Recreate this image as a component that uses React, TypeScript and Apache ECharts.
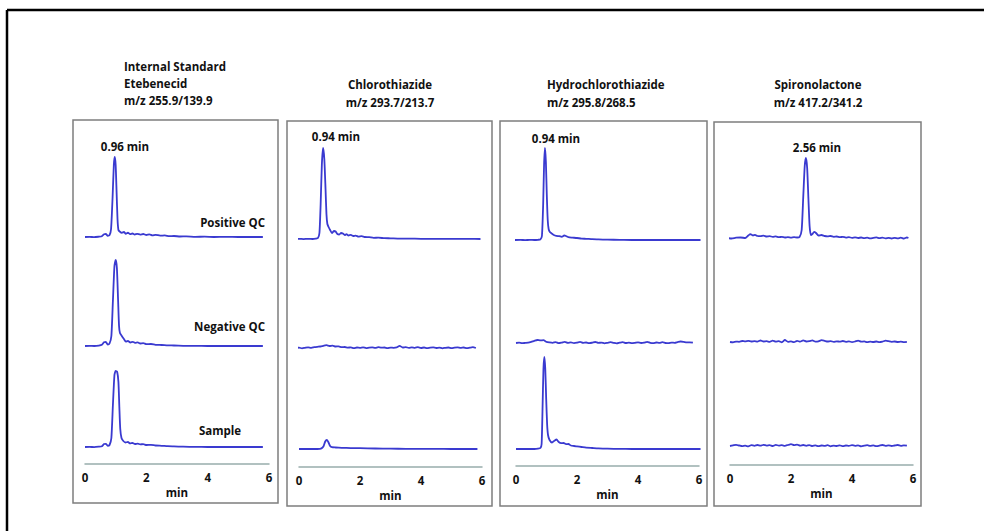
import React, { useEffect, useRef } from "react";
import * as echarts from "echarts";

// ---------- text ----------
const panelTitles: string[][] = [
  ["Internal Standard", "Etebenecid", "m/z 255.9/139.9"],
  ["Chlorothiazide", "m/z 293.7/213.7"],
  ["Hydrochlorothiazide", "m/z 295.8/268.5"],
  ["Spironolactone", "m/z 417.2/341.2"],
];
const peakLabels = ["0.96 min", "0.94 min", "0.94 min", "2.56 min"];
const rowLabels = ["Positive QC", "Negative QC", "Sample"];
const xTickRange = { min: 0, max: 6, interval: 2 };
const xAxisName = "min";

// ---------- data: [time (min), signal] ----------
const p1Pos = [[0,0],[0.15,0.2],[0.3,-0.2],[0.45,0.3],[0.55,0.8],[0.62,2.8],[0.68,3],[0.74,1.2],[0.8,1.8],[0.85,8],[0.9,40],[0.94,72],[0.97,80],[1.0,72],[1.03,45],[1.06,18],[1.09,7],[1.13,5.5],[1.2,4.2],[1.27,5],[1.33,3.2],[1.4,4.3],[1.47,2.8],[1.55,3.5],[1.62,2.4],[1.7,3.2],[1.8,2.4],[1.9,3],[2.0,2],[2.1,2.6],[2.2,1.6],[2.3,2.2],[2.45,1.3],[2.6,1.6],[2.75,0.8],[2.9,1],[3.1,0.5],[3.3,0.6],[3.6,0.2],[3.9,0.3],[4.2,0],[4.6,0.1],[5.0,0],[5.4,0],[5.8,0]];
const p1Neg = [[0,0],[0.15,0.2],[0.3,0],[0.45,0.4],[0.55,1.2],[0.62,3.8],[0.68,4],[0.74,1.5],[0.8,2.5],[0.86,10],[0.91,45],[0.96,80],[1.0,86],[1.04,78],[1.08,45],[1.11,20],[1.14,13],[1.2,10],[1.27,7],[1.33,4.5],[1.4,5],[1.48,3.5],[1.56,4.2],[1.63,3.2],[1.72,3.6],[1.8,2.5],[1.9,2.8],[2.0,1.8],[2.15,2],[2.3,1.2],[2.5,1],[2.7,0.6],[2.9,0.5],[3.2,0.2],[3.6,0.1],[4.0,0],[4.5,0],[5.0,0],[5.4,0],[5.8,0]];
const p1Sample = [[0,0],[0.15,0.1],[0.3,-0.1],[0.45,0.3],[0.55,0.8],[0.62,3],[0.68,3.2],[0.74,1.2],[0.8,2],[0.86,9],[0.91,42],[0.96,72],[1.0,76],[1.05,75],[1.09,65],[1.12,40],[1.15,18],[1.19,9],[1.25,6],[1.32,4.5],[1.4,5],[1.47,3.6],[1.55,4],[1.63,3],[1.72,3.4],[1.8,2.6],[1.9,2.9],[2.0,2],[2.15,2.2],[2.3,1.5],[2.5,1.2],[2.7,0.8],[2.9,0.6],[3.2,0.3],[3.6,0.1],[4.0,0],[4.5,0],[5.0,0],[5.4,0],[5.8,0]];

const p2Pos = [[-0.15,0],[0,0.2],[0.15,-0.1],[0.3,0.2],[0.45,0],[0.55,0.4],[0.62,1],[0.67,6],[0.71,35],[0.75,75],[0.79,91],[0.83,80],[0.87,50],[0.9,25],[0.93,15],[0.97,12],[1.02,9],[1.08,6],[1.15,8],[1.2,7.5],[1.26,5],[1.32,4.5],[1.38,6],[1.44,5.5],[1.5,4],[1.56,4.8],[1.62,3.5],[1.7,4.2],[1.78,3],[1.86,3.4],[1.95,2.4],[2.05,2.8],[2.15,2],[2.3,1.8],[2.45,1.2],[2.6,1.3],[2.8,0.8],[3.0,0.7],[3.3,0.4],[3.6,0.4],[4.0,0.2],[4.4,0.2],[4.8,0.1],[5.2,0.2],[5.6,0.1],[5.95,0]];
const p2Neg = [[-0.1,0],[0,0.3],[0.1,-0.3],[0.2,0.2],[0.3,0.6],[0.4,0.2],[0.5,0.8],[0.6,1.2],[0.7,1.5],[0.8,2.2],[0.9,2.8],[1.0,2.0],[1.1,2.4],[1.2,1.5],[1.3,1.6],[1.4,0.8],[1.5,1.0],[1.6,0.4],[1.7,0.6],[1.8,-0.2],[1.9,0.5],[2.0,0.2],[2.1,0.7],[2.2,-0.1],[2.3,0.4],[2.4,0.6],[2.5,0.1],[2.6,0.8],[2.7,0.3],[2.8,0.5],[2.9,-0.2],[3.0,0.4],[3.1,0.2],[3.2,0.6],[3.3,2.2],[3.4,0.5],[3.5,0.9],[3.6,0.1],[3.7,0.6],[3.8,0.2],[3.9,0.8],[4.0,0.0],[4.1,0.5],[4.2,-0.2],[4.3,0.3],[4.4,0.6],[4.5,0.0],[4.6,0.4],[4.7,-0.3],[4.8,0.2],[4.9,0.5],[5.0,-0.1],[5.1,0.4],[5.2,0.7],[5.3,0.1],[5.4,0.5],[5.5,-0.2],[5.6,0.3],[5.7,0.8],[5.8,0.0]];
const p2Sample = [[0,0],[0.3,0],[0.6,0],[0.72,0.3],[0.8,2.5],[0.86,7.5],[0.91,9],[0.96,7],[1.02,3],[1.08,1.8],[1.2,1.5],[1.4,1.2],[1.7,0.9],[2.0,0.8],[2.5,0.5],[3.0,0.3],[3.5,0.2],[4.0,0.1],[4.5,0.1],[5.0,0],[5.5,0],[5.85,0]];

const p3Pos = [[-0.05,0],[0.15,0.1],[0.3,-0.1],[0.45,0.1],[0.6,0],[0.72,0.2],[0.8,0.6],[0.85,4],[0.89,35],[0.92,75],[0.95,92],[0.98,78],[1.01,45],[1.04,20],[1.07,11],[1.11,8],[1.17,6.5],[1.24,5],[1.32,4.2],[1.42,3.8],[1.5,3.2],[1.58,4.5],[1.64,4],[1.72,2.8],[1.85,2.4],[2.0,2],[2.15,1.4],[2.3,1.2],[2.5,0.8],[2.7,0.6],[3.0,0.3],[3.4,0.2],[3.8,0],[4.3,0],[4.8,0],[5.3,0],[5.8,0],[6.05,0]];
const p3Neg = [[0,0],[0.1,0.3],[0.2,-0.2],[0.3,0.1],[0.4,0.4],[0.5,1.2],[0.6,2.2],[0.7,3],[0.8,2.6],[0.9,2.8],[1.0,1.2],[1.1,0.6],[1.2,0.2],[1.3,0.8],[1.4,-0.2],[1.5,0.4],[1.6,1.2],[1.7,0.1],[1.8,0.6],[1.9,-0.1],[2.0,0.3],[2.1,1.1],[2.2,0.2],[2.3,0.5],[2.4,-0.2],[2.5,0.3],[2.6,1],[2.7,0.1],[2.8,0.4],[2.9,-0.3],[3.0,0.2],[3.1,0.8],[3.2,0.1],[3.3,-0.4],[3.4,0.3],[3.5,0.9],[3.6,0],[3.7,0.4],[3.8,-0.2],[3.9,0.2],[4.0,0.7],[4.1,0],[4.2,0.3],[4.3,1.2],[4.4,0.2],[4.5,-0.2],[4.6,0.5],[4.7,0.1],[4.8,0.8],[4.9,0],[5.0,-0.2],[5.1,0.4],[5.2,0.2],[5.3,0.9],[5.4,1.5],[5.5,1.1],[5.6,0.6],[5.7,0.7],[5.8,0.3]];
const p3Sample = [[0,0],[0.2,0],[0.4,0],[0.6,0],[0.72,0.3],[0.8,1],[0.84,5],[0.87,40],[0.9,80],[0.93,92],[0.96,80],[0.99,50],[1.02,25],[1.05,14],[1.1,9],[1.18,6.5],[1.27,8.5],[1.33,9.5],[1.4,7],[1.48,5.8],[1.56,6],[1.64,4.8],[1.72,5],[1.8,3.5],[1.9,3],[2.0,2.6],[2.15,2],[2.3,1.4],[2.5,1],[2.7,0.6],[3.0,0.3],[3.4,0.1],[3.8,0],[4.3,0],[4.8,0],[5.3,0],[5.8,0],[6.05,0]];

const p4Pos = [[-0.1,0],[0.05,-0.5],[0.2,0.3],[0.35,0.5],[0.5,0],[0.6,2.5],[0.67,3.8],[0.75,2.5],[0.82,3.2],[0.9,2],[1.0,1.8],[1.1,2.4],[1.2,1.5],[1.3,1.8],[1.4,1.2],[1.5,1.6],[1.6,0.8],[1.7,1.2],[1.8,0.5],[1.9,0.9],[2.0,0.4],[2.1,0.8],[2.2,0.5],[2.28,1],[2.35,8],[2.4,40],[2.45,72],[2.49,80],[2.53,70],[2.57,40],[2.61,12],[2.65,3],[2.7,4],[2.76,6.2],[2.82,5],[2.9,2.5],[3.0,3],[3.1,2],[3.2,1.6],[3.3,2],[3.4,1.2],[3.5,1.5],[3.6,0.8],[3.7,1.2],[3.8,0.4],[3.9,0.8],[4.0,0.2],[4.1,0.6],[4.2,0],[4.3,0.5],[4.4,-0.2],[4.5,0.3],[4.6,-0.4],[4.7,0.2],[4.8,0.6],[4.9,-0.2],[5.0,0.3],[5.1,-0.3],[5.2,0.2],[5.3,-0.5],[5.4,0.1],[5.5,-0.4],[5.6,0.3],[5.7,-0.6],[5.8,0.5],[5.85,0]];
const p4Neg = [[0,0],[0.1,-0.3],[0.2,0.4],[0.3,0.2],[0.4,1],[0.5,0.6],[0.6,1.2],[0.7,0.5],[0.8,0.9],[0.9,0.4],[1.0,1.5],[1.1,0.5],[1.2,0.8],[1.3,0.2],[1.4,1.3],[1.5,0.4],[1.6,0.9],[1.7,-0.3],[1.8,2],[1.9,0.2],[2.0,0.6],[2.1,-0.2],[2.2,1.2],[2.3,0.3],[2.4,1.6],[2.5,0.5],[2.6,0.8],[2.7,1.6],[2.8,0.4],[2.9,0.7],[3.0,1.8],[3.1,1.2],[3.2,0.5],[3.3,0.9],[3.4,0.1],[3.5,0.7],[3.6,0.3],[3.7,1],[3.8,0.2],[3.9,0.6],[4.0,-0.1],[4.1,0.5],[4.2,1.4],[4.3,0.3],[4.4,0.6],[4.5,-0.2],[4.6,0.4],[4.7,0],[4.8,0.5],[4.9,-0.1],[5.0,0.4],[5.1,1.3],[5.2,0.8],[5.3,0.2],[5.4,0.5],[5.5,0],[5.6,0.3],[5.7,-0.2],[5.8,0.2]];
const p4Sample = [[0,0],[0.1,0.6],[0.2,1.2],[0.3,0.5],[0.4,-0.2],[0.5,0.3],[0.6,-0.3],[0.7,0.8],[0.8,0.2],[0.9,1],[1.0,0.3],[1.1,1.2],[1.2,0.4],[1.3,0.9],[1.4,0],[1.5,1.1],[1.6,0.4],[1.7,0.8],[1.8,0.2],[1.9,1],[2.0,1.8],[2.1,0.8],[2.2,1.3],[2.3,0.4],[2.4,1],[2.5,0.2],[2.6,0.9],[2.7,0],[2.8,0.6],[2.9,-0.2],[3.0,0.5],[3.1,0.1],[3.2,0.8],[3.3,-0.3],[3.4,0.4],[3.5,0],[3.6,0.7],[3.7,-0.2],[3.8,0.5],[3.9,0.1],[4.0,0.9],[4.1,0.2],[4.2,0.6],[4.3,-0.3],[4.4,0.3],[4.5,0.8],[4.6,0.1],[4.7,0.6],[4.8,-0.2],[4.9,0.4],[5.0,1],[5.1,0.2],[5.2,0.6],[5.3,0],[5.4,0.5],[5.5,1],[5.6,0.2],[5.7,0.7],[5.8,0.4]];

const traces = [
  [p1Pos, p1Neg, p1Sample],
  [p2Pos, p2Neg, p2Sample],
  [p3Pos, p3Neg, p3Sample],
  [p4Pos, p4Neg, p4Sample],
];

// ---------- layout (pixels) ----------
const layout = [
  { box: [73, 120, 205, 383], xLeft: 85, xWidth: 184, baselines: [237, 346, 447], axisY: 464, titleX: 124, titleAlign: "left", titleY: [66, 83, 100], peak: [125, 146] },
  { box: [287, 121, 205, 385], xLeft: 299, xWidth: 183, baselines: [239, 348, 449], axisY: 467, titleX: 390, titleAlign: "center", titleY: [84, 102], peak: [336, 136] },
  { box: [500, 121, 207, 385], xLeft: 516, xWidth: 183, baselines: [240, 343, 449], axisY: 466, titleX: 547, titleAlign: "left", titleY: [84, 102], peak: [556, 138] },
  { box: [714, 122, 207, 384], xLeft: 730, xWidth: 183, baselines: [238, 342, 446], axisY: 465, titleX: 818, titleAlign: "center", titleY: [84, 102], peak: [817, 147] },
];
const rowLabelPos = [
  { x: 265, y: 222, align: "right" },
  { x: 265, y: 326, align: "right" },
  { x: 199, y: 430, align: "left" },
];

const FONT = '"Open Sans", "Noto Sans", sans-serif';
const FS = 11.5;
const TRACE_COLOR = "#3a3ad0";
const TEXT_COLOR = "#111111";

export default function App() {
  const ref = useRef<HTMLDivElement>(null);
  useEffect(() => {
    if (!ref.current) return;
    const chart = echarts.init(ref.current, undefined, { renderer: "svg" });
    const grid: any[] = [];
    const xAxis: any[] = [];
    const yAxis: any[] = [];
    const series: any[] = [];
    const graphic: any[] = [];

    graphic.push({ type: "line", shape: { x1: 7, y1: 10, x2: 984, y2: 10 }, style: { stroke: "#000", lineWidth: 2.5 } });
    graphic.push({ type: "line", shape: { x1: 7, y1: 10, x2: 7, y2: 531 }, style: { stroke: "#000", lineWidth: 2.5 } });

    layout.forEach((L, p) => {
      graphic.push({
        type: "rect",
        shape: { x: L.box[0], y: L.box[1], width: L.box[2], height: L.box[3] },
        style: { fill: "transparent", stroke: "#7e7e7e", lineWidth: 1.5 },
        z: -1,
      });
      panelTitles[p].forEach((t, i) => {
        graphic.push({
          type: "text",
          style: { text: t, x: L.titleX, y: L.titleY[i], font: `bold ${FS}px ${FONT}`, fill: TEXT_COLOR, align: L.titleAlign, verticalAlign: "middle" },
        });
      });
      graphic.push({
        type: "text",
        style: { text: peakLabels[p], x: L.peak[0], y: L.peak[1], font: `bold ${FS}px ${FONT}`, fill: TEXT_COLOR, align: "center", verticalAlign: "middle" },
      });

      traces[p].forEach((data, r) => {
        const gi = grid.length;
        grid.push({ left: L.xLeft, width: L.xWidth, top: L.baselines[r] - 100, height: 105 });
        xAxis.push({ gridIndex: gi, type: "value", min: xTickRange.min, max: xTickRange.max, show: false });
        yAxis.push({ gridIndex: gi, type: "value", min: -5, max: 100, show: false });
        series.push({
          type: "line",
          xAxisIndex: gi,
          yAxisIndex: gi,
          data,
          showSymbol: false,
          symbol: "none",
          smooth: 0.2,
          clip: false,
          lineStyle: { color: TRACE_COLOR, width: 1.8, join: "round" },
        });
      });

      const ai = grid.length;
      grid.push({ left: L.xLeft, width: L.xWidth, top: L.axisY - 10, height: 10 });
      xAxis.push({
        gridIndex: ai,
        type: "value",
        min: xTickRange.min,
        max: xTickRange.max,
        interval: xTickRange.interval,
        axisLine: { show: true, lineStyle: { color: "#98adac", width: 1.5 } },
        axisTick: { show: false },
        splitLine: { show: false },
        axisLabel: { color: TEXT_COLOR, fontWeight: "bold", fontSize: FS, fontFamily: FONT, margin: 7 },
        name: xAxisName,
        nameLocation: "middle",
        nameGap: 22,
        nameTextStyle: { color: TEXT_COLOR, fontWeight: "bold", fontSize: FS, fontFamily: FONT },
      });
      yAxis.push({ gridIndex: ai, type: "value", min: 0, max: 1, show: false });
    });

    rowLabels.forEach((t, i) => {
      const P = rowLabelPos[i];
      graphic.push({
        type: "text",
        style: { text: t, x: P.x, y: P.y, font: `bold ${FS}px ${FONT}`, fill: TEXT_COLOR, align: P.align, verticalAlign: "middle" },
      });
    });

    chart.setOption({
      animation: false,
      backgroundColor: "#ffffff",
      grid,
      xAxis,
      yAxis,
      series,
      graphic,
    });
    return () => chart.dispose();
  }, []);
  return <div ref={ref} style={{ position: "fixed", left: 0, top: 0, width: 984, height: 531 }} />;
}
